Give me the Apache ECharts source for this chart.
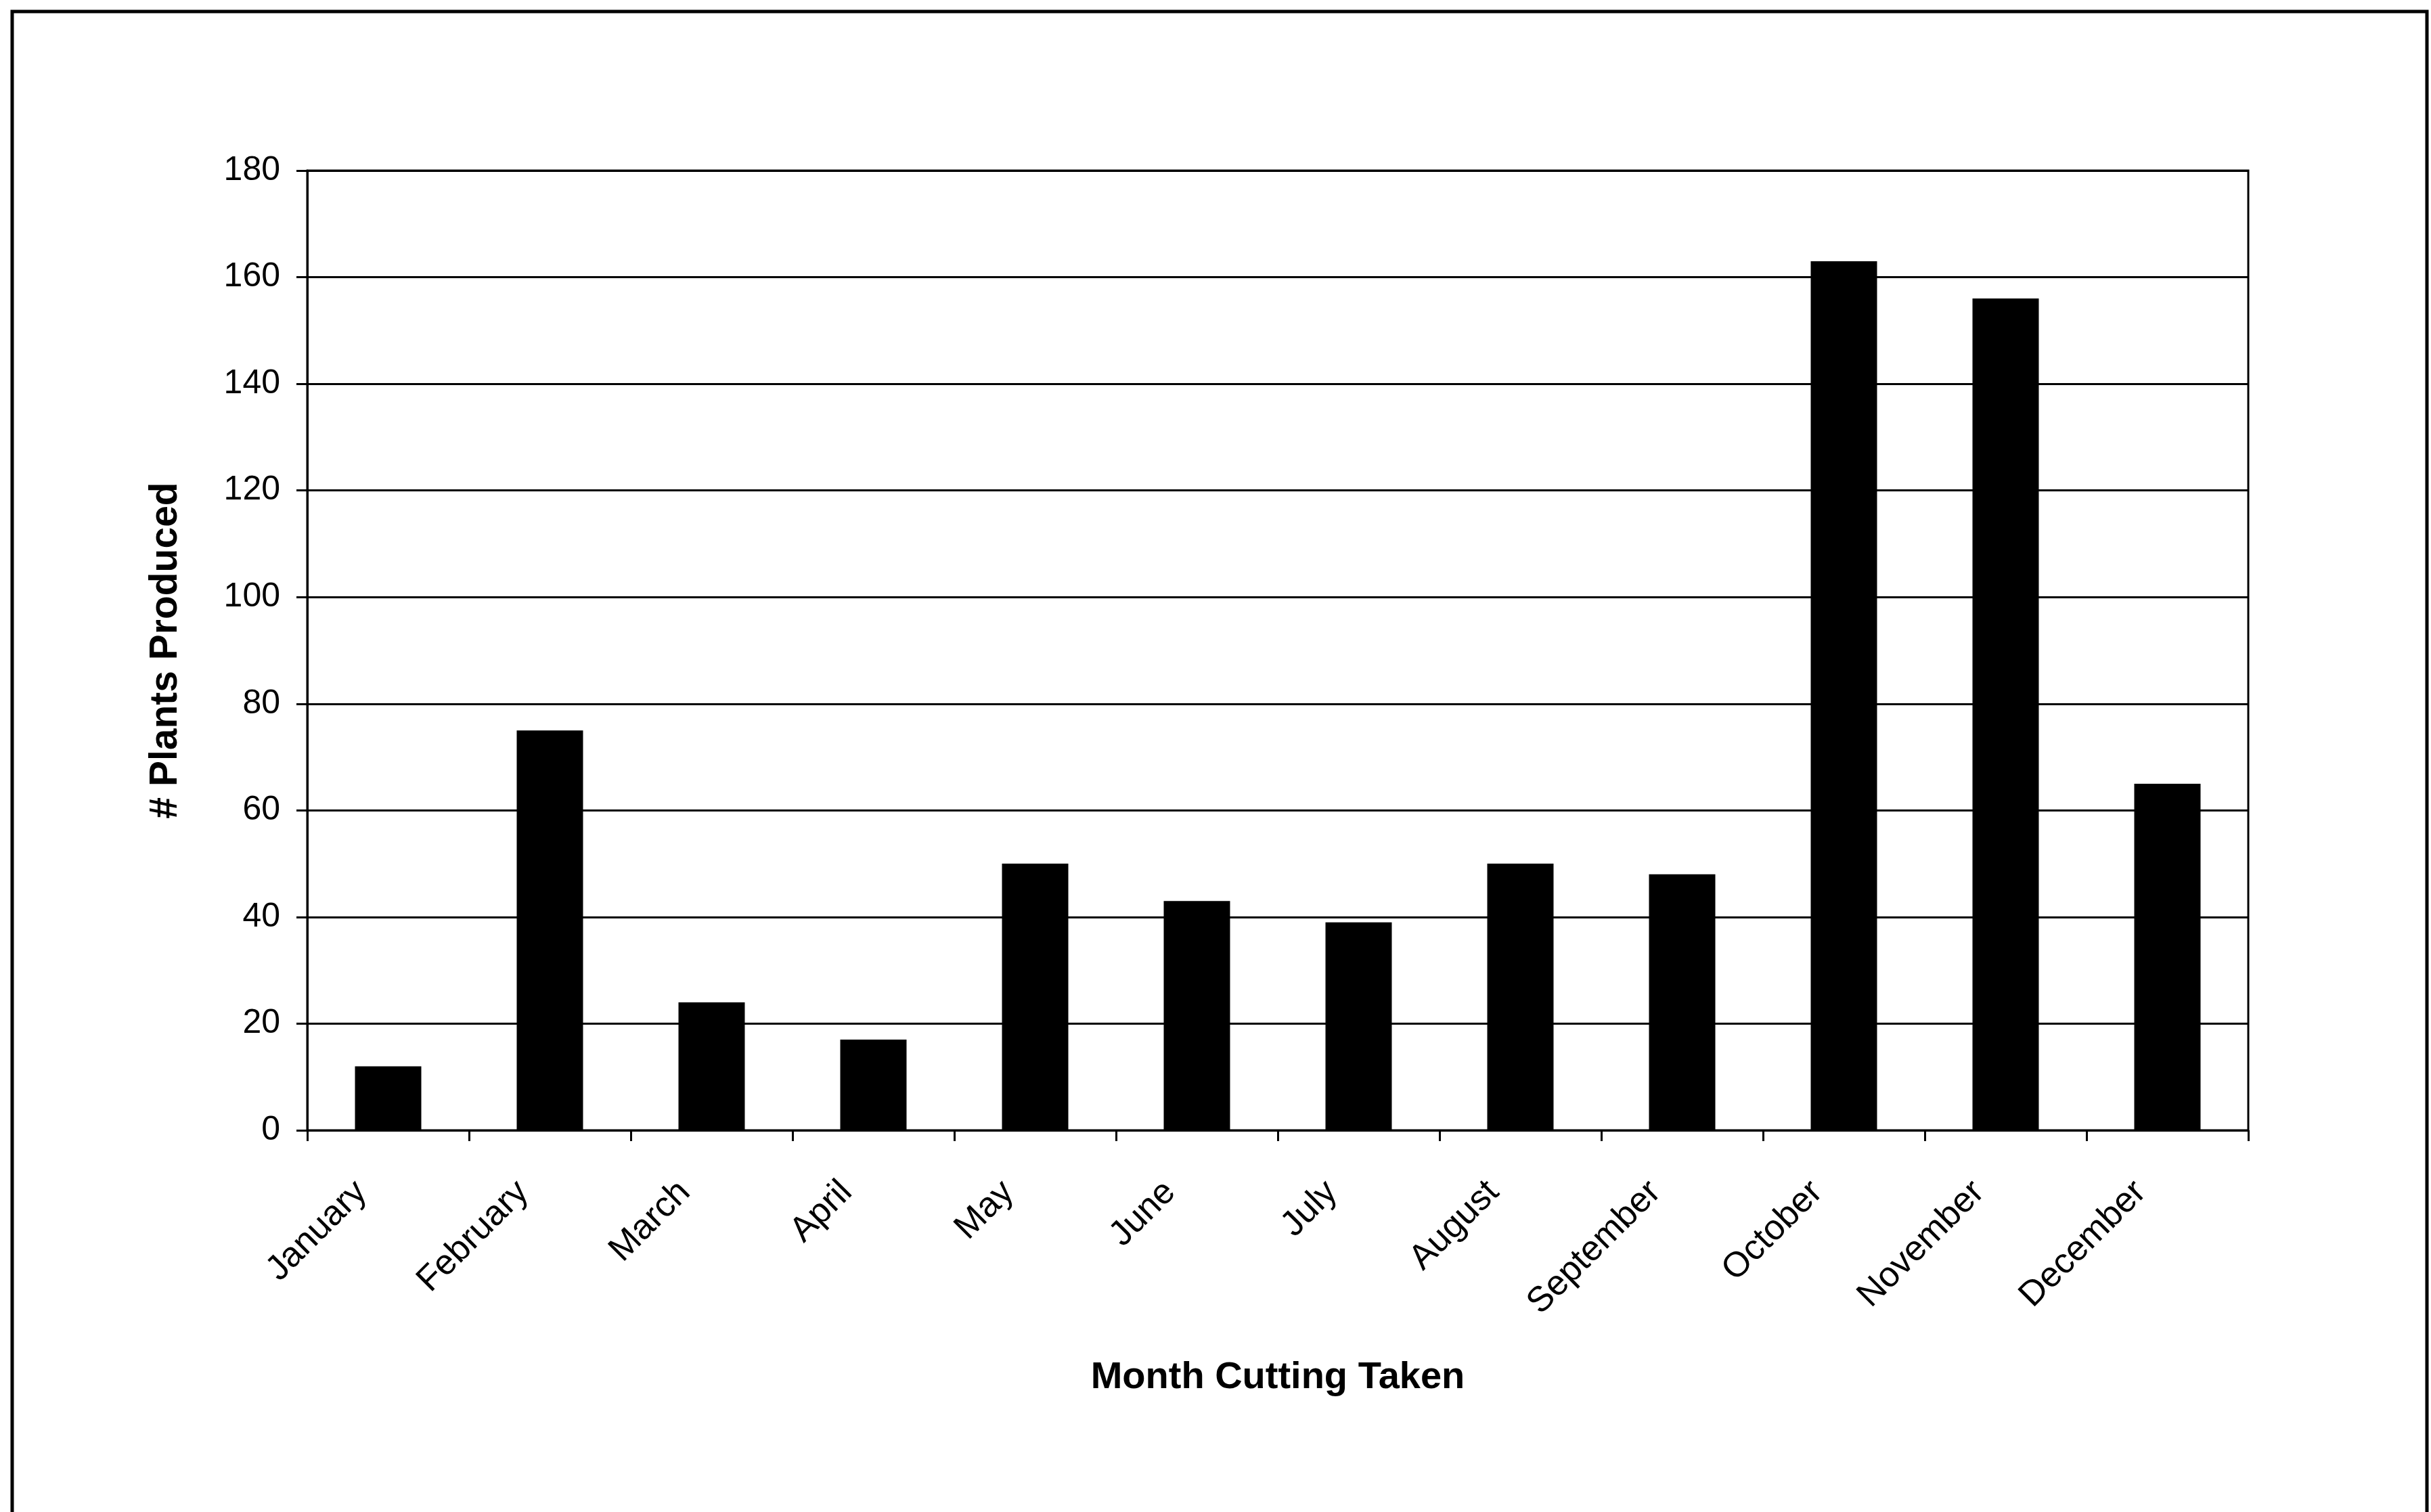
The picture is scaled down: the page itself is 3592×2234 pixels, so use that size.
<!DOCTYPE html>
<html>
<head>
<meta charset="utf-8">
<script src="https://cdn.jsdelivr.net/npm/echarts@6/dist/echarts.min.js"></script>
<style>
  html, body { margin: 0; padding: 0; background: #fff; }
  #chart { width: 3592px; height: 2234px; }
</style>
</head>
<body>
<div id="chart"></div>
<script>
// months on the x axis
const months = ["January", "February", "March", "April", "May", "June",
  "July", "August", "September", "October", "November", "December"];
// plants produced per month
const plants = [12, 75, 24, 17, 50, 43, 39, 50, 48, 163, 156, 65];
const yTicks = { min: 0, max: 180, step: 20 };

const font = "'Liberation Sans', Arial, sans-serif";
const myChart = echarts.init(document.getElementById("chart"));

let option = {
  backgroundColor: "#fff",
  animation: false,
  graphic: [
    {
      // outer frame of the chart area
      type: "rect",
      shape: { x: 18, y: 17, width: 3568, height: 2260 },
      style: { fill: "none", stroke: "#000", lineWidth: 5 },
    },
  ],
  grid: {
    left: 454,
    right: 270,
    top: 252,
    bottom: 564,
    show: true,
    borderColor: "#000",
    borderWidth: 3,
    backgroundColor: "#fff",
  },
  xAxis: {
    type: "category",
    data: months,
    name: "Month Cutting Taken",
    nameLocation: "middle",
    nameGap: 338,
    nameTextStyle: { fontFamily: font, fontWeight: "bold", fontSize: 56, color: "#000" },
    axisLine: { lineStyle: { color: "#000", width: 3 } },
    axisTick: { show: true, alignWithLabel: false, length: 16, lineStyle: { color: "#000", width: 3 } },
    axisLabel: {
      rotate: 45,
      margin: 44,
      interval: 0,
      padding: [0, 56, 0, 0],
      fontFamily: font,
      fontSize: 52,
      color: "#000",
    },
  },
  yAxis: {
    type: "value",
    min: yTicks.min,
    max: yTicks.max,
    interval: yTicks.step,
    name: "# Plants Produced",
    nameLocation: "middle",
    nameGap: 180,
    nameTextStyle: { fontFamily: font, fontWeight: "bold", fontSize: 57, color: "#000" },
    axisLine: { show: true, lineStyle: { color: "#000", width: 3 } },
    axisTick: { show: true, length: 16, lineStyle: { color: "#000", width: 3 } },
    axisLabel: { margin: 40, fontFamily: font, fontSize: 50, color: "#000" },
    splitLine: { show: true, lineStyle: { color: "#000", width: 3 } },
  },
  series: [
    {
      type: "bar",
      data: plants,
      barCategoryGap: "59%",
      itemStyle: { color: "#000" },
    },
  ],
};
myChart.setOption(option);
</script>
</body>
</html>
